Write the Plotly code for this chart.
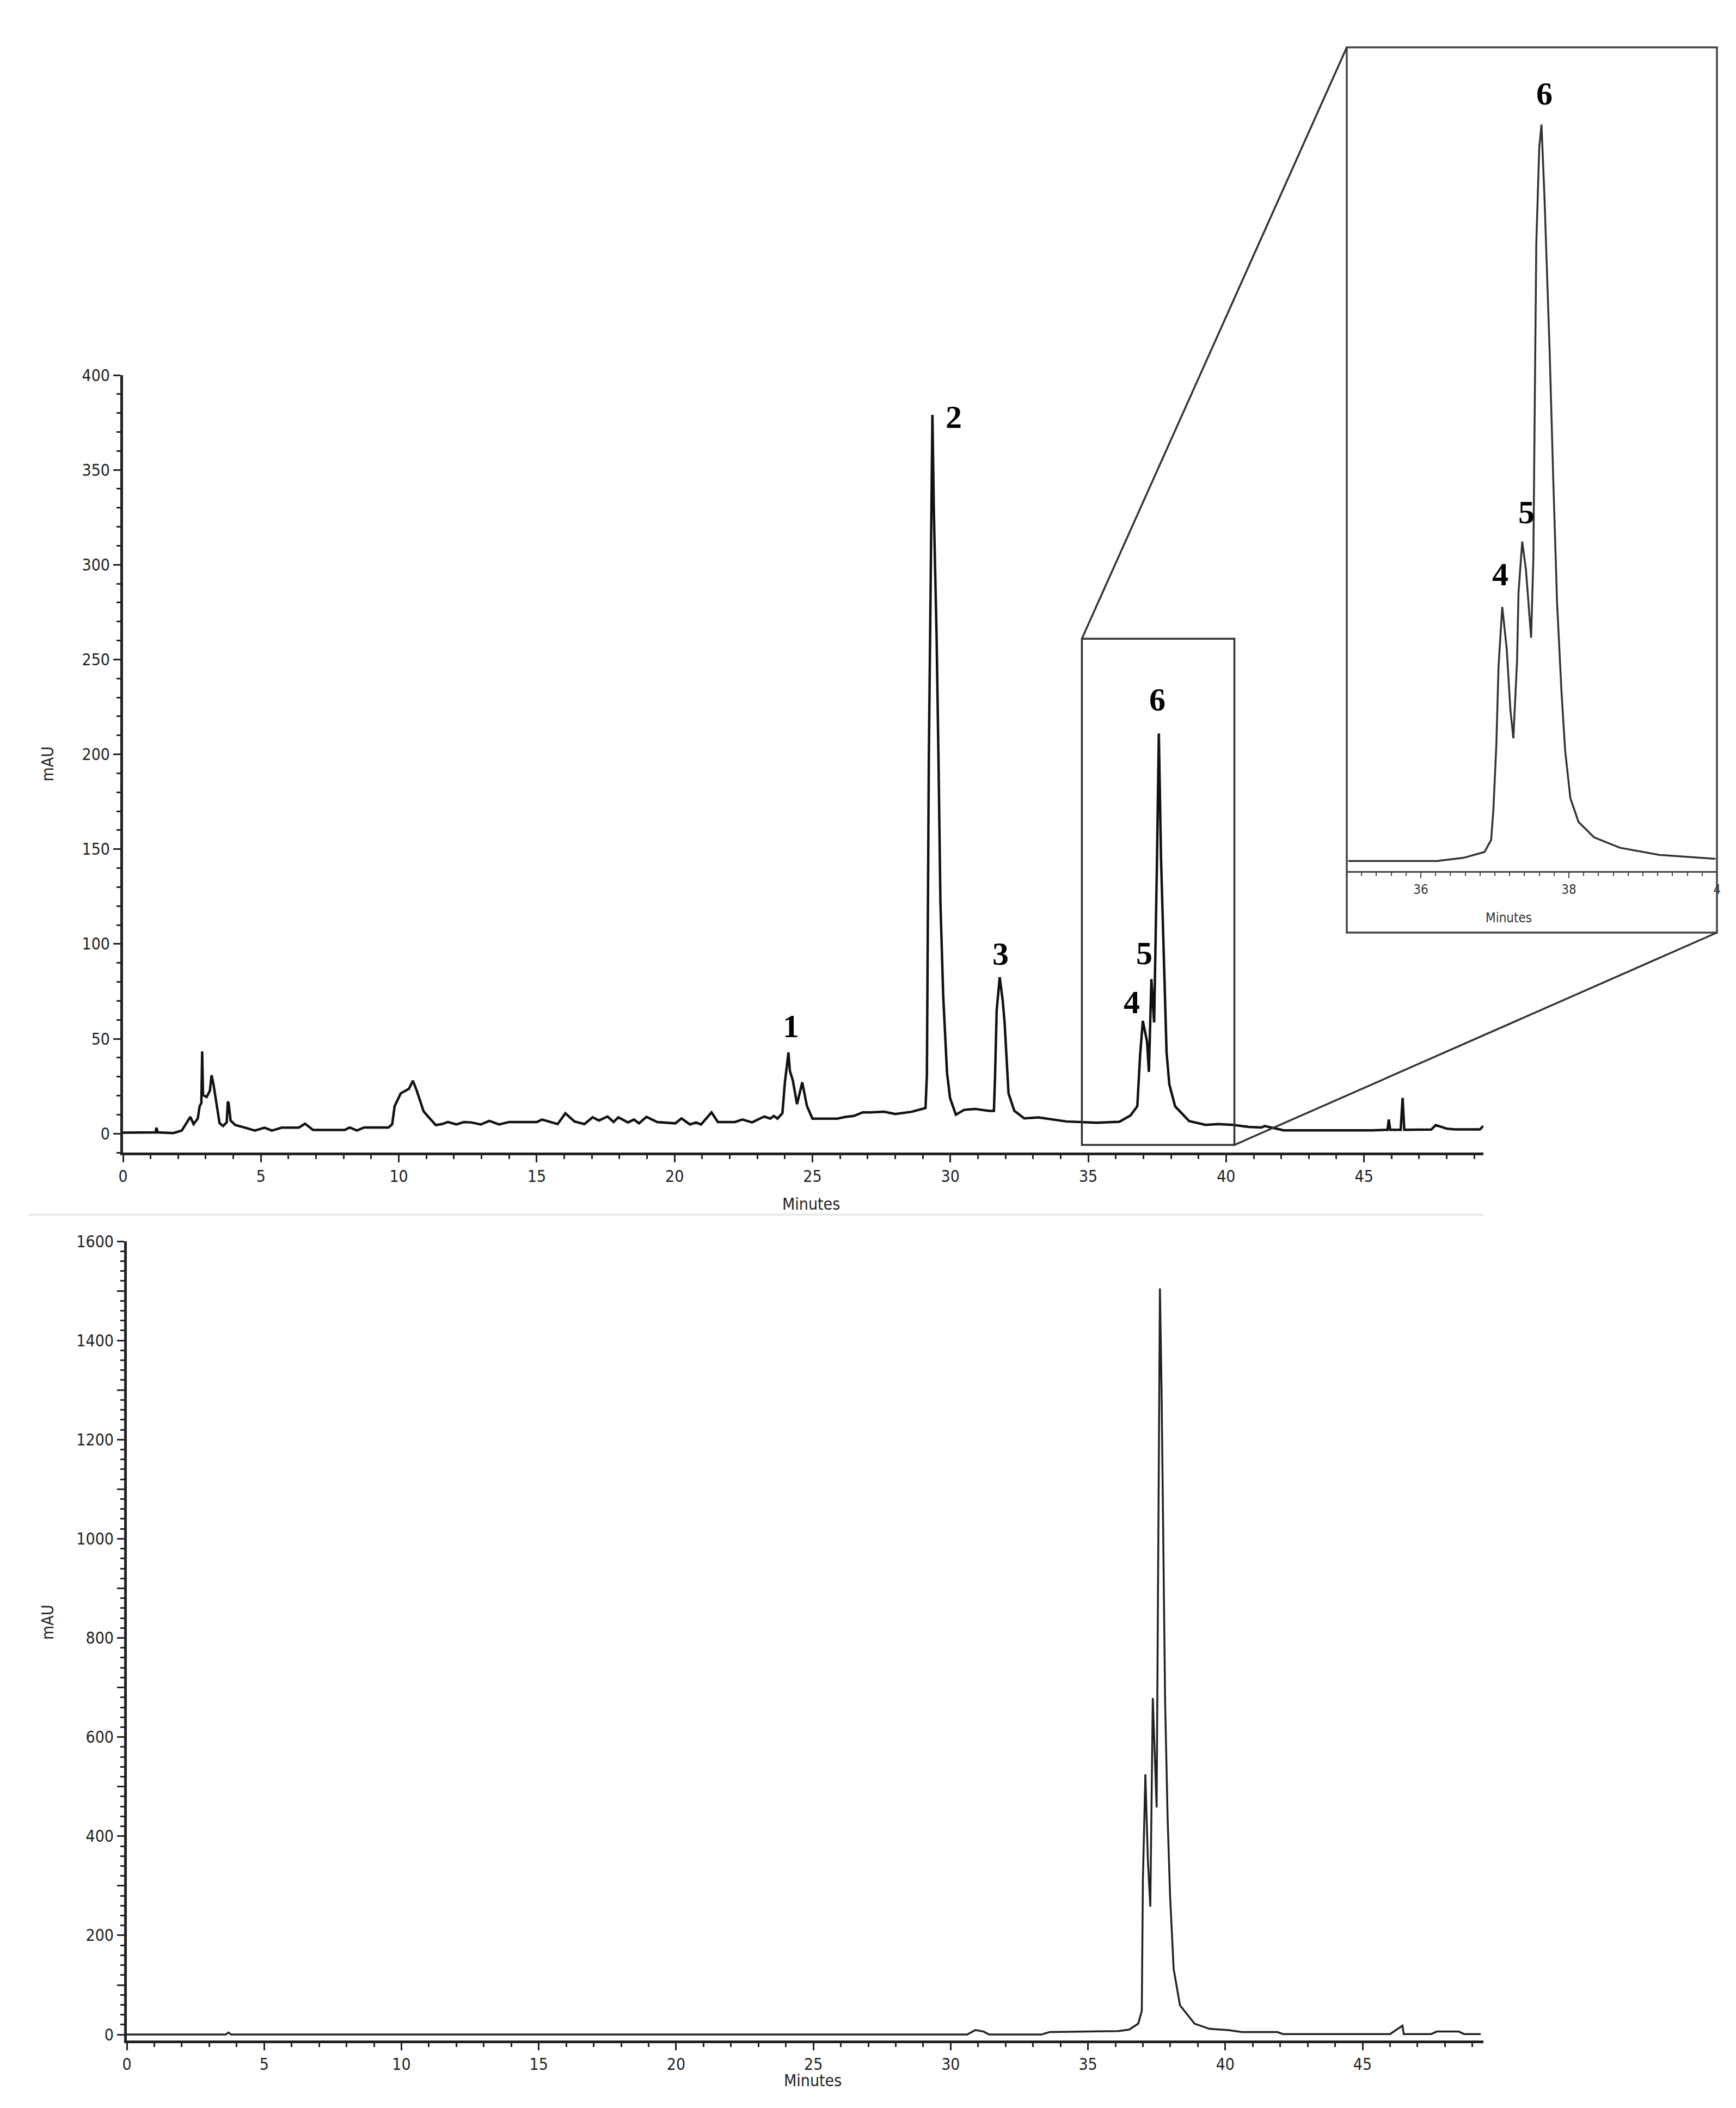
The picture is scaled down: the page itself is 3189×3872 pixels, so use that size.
import plotly.graph_objects as go

# ---------------- data ----------------
# Upper chromatogram (sample), retention time in minutes, signal in mAU
top_time = [0, 1.08, 1.18, 1.21, 1.26, 1.83, 2.13, 2.44, 2.56, 2.71, 2.78, 2.84, 2.87, 2.90,
            3.03, 3.15, 3.21, 3.28, 3.41, 3.50, 3.63, 3.76, 3.80, 3.83, 3.90, 4.07, 4.43, 4.78,
            5.13, 5.40, 5.75, 6.37, 6.60, 6.89, 8.04, 8.22, 8.48, 8.74, 9.63, 9.76, 9.85, 10.07,
            10.37, 10.51, 10.64, 10.90, 11.13, 11.34, 11.56, 11.78, 12.09, 12.36, 12.62, 12.97,
            13.28, 13.64, 14.00, 15.01, 15.19, 15.76, 16.04, 16.37, 16.73, 17.03, 17.26, 17.57,
            17.79, 17.96, 18.31, 18.53, 18.71, 18.98, 19.37, 20.03, 20.25, 20.56, 20.78, 20.96,
            21.34, 21.57, 22.19, 22.46, 22.81, 23.25, 23.47, 23.60, 23.73, 23.91, 24.00, 24.13,
            24.18, 24.29, 24.44, 24.63, 24.80, 25.00, 25.90, 26.20, 26.50, 26.82, 27.10, 27.60,
            28.00, 28.60, 29.10, 29.15, 29.22, 29.30, 29.35, 29.40, 29.50, 29.57, 29.64, 29.74,
            29.88, 29.99, 30.20, 30.50, 30.90, 31.40, 31.58, 31.62, 31.68, 31.79, 31.90, 31.97,
            32.04, 32.11, 32.32, 32.68, 33.20, 34.20, 35.30, 36.13, 36.53, 36.78, 36.88, 36.98,
            37.13, 37.20, 37.29, 37.39, 37.49, 37.56, 37.64, 37.74, 37.84, 37.94, 38.15, 38.66,
            39.26, 39.70, 40.27, 40.82, 41.28, 41.40, 42.09, 45.30, 45.85, 45.90, 45.95, 46.33,
            46.40, 46.46, 46.60, 47.44, 47.60, 48.00, 48.30, 49.20, 49.33]
top_signal = [0.5, 0.4, 0.6, 3.1, 0.6, 0.3, 1.6, 8.8, 5.0, 7.9, 14.5, 16.0, 43.3, 20.3,
              19.3, 22.6, 30.8, 26.0, 12.6, 5.5, 4.0, 5.9, 16.9, 16.0, 6.9, 4.5, 3.1, 1.6,
              3.1, 1.6, 3.1, 3.1, 5.2, 1.9, 1.9, 3.2, 1.6, 3.2, 3.2, 4.9, 14.5, 21.2,
              23.6, 27.9, 23.1, 11.7, 7.9, 4.5, 5.0, 6.1, 4.8, 6.1, 5.9, 4.8,
              6.7, 4.8, 6.1, 6.1, 7.4, 5.0, 10.7, 6.4, 5.0, 8.6, 6.9, 9.0,
              6.1, 8.6, 5.9, 7.4, 5.4, 8.8, 6.1, 5.4, 8.0, 4.8, 5.9, 4.8,
              11.2, 6.1, 6.1, 7.4, 5.9, 9.0, 7.9, 9.3, 7.9, 10.7, 27.0, 42.8,
              33.2, 27.9, 15.5, 27.0, 14.5, 7.9, 7.9, 8.8, 9.3, 11.2, 11.2, 11.5,
              10.3, 11.5, 13.5, 31.0, 198.0, 330.0, 379.0, 330.0, 263.0, 198.0, 122.0, 73.0,
              32.0, 18.7, 10.0, 12.5, 13.0, 12.0, 12.0, 29.6, 65.0, 82.5, 70.0, 58.0,
              40.0, 21.2, 12.0, 8.0, 8.5, 6.4, 5.7, 6.2, 9.5, 14.4, 41.2, 59.4,
              48.8, 32.5, 81.5, 58.6, 141.0, 211.0, 145.0, 93.0, 43.0, 26.0, 14.4, 6.6,
              4.6, 5.0, 4.6, 3.5, 3.2, 4.0, 1.7, 1.7, 2.0, 7.4, 2.0, 2.0,
              18.8, 2.0, 2.0, 2.1, 4.5, 2.6, 2.2, 2.2, 4.0]

# Inset (enlarged view of 35-40 min of the upper chromatogram)
inset_time = [35.02, 36.22, 36.58, 36.86, 36.95, 36.98, 37.02, 37.05, 37.10, 37.16, 37.21,
              37.25, 37.30, 37.32, 37.37, 37.42, 37.49, 37.52, 37.54, 37.56, 37.60, 37.63,
              37.67, 37.71, 37.74, 37.79, 37.84, 37.90, 37.95, 38.02, 38.13, 38.34, 38.69,
              39.22, 39.98]
inset_signal = [5.8, 5.8, 6.7, 8.3, 11.7, 20.0, 38.0, 60.0, 76.6, 65.0, 48.0,
                40.0, 61.6, 80.7, 94.8, 87.0, 68.0, 90.0, 134.7, 178.0, 204.6, 211.0,
                191.0, 168.0, 148.0, 111.5, 78.0, 53.0, 36.5, 23.3, 16.7, 12.4, 9.5,
                7.5, 6.4]

# Lower chromatogram (standard)
bottom_time = [0, 3.60, 3.70, 3.80, 10.0, 20.0, 30.60, 30.90, 31.20, 31.40, 33.30, 33.60,
               36.10, 36.50, 36.83, 36.96, 37.00, 37.09, 37.18, 37.27, 37.36, 37.50, 37.58,
               37.62, 37.68, 37.74, 37.81, 37.90, 37.99, 38.12, 38.35, 38.88, 39.42, 40.13,
               40.60, 41.90, 42.10, 46.00, 46.45, 46.50, 46.55, 47.50, 47.70, 48.50, 48.70,
               49.30]
bottom_signal = [0, 0, 4, 0, 0, 0, 0, 9, 6, 0, 0, 5,
                 7, 10, 22, 48, 311, 525, 353, 258, 679, 458, 1100,
                 1505, 1300, 1000, 668, 437, 280, 132, 59, 22, 11.5, 8.8,
                 5, 5, 1, 1, 18, 1, 1, 1, 6, 6, 1,
                 1]

# Peak labels
main_labels = ["1", "2", "3", "4", "5", "6"]
main_label_x = [24.23, 30.13, 31.83, 36.58, 37.04, 37.50]
main_label_y = [56.6, 377.9, 94.8, 69.2, 95.0, 228.9]
inset_labels = ["4", "5", "6"]
inset_label_x = [37.07, 37.43, 37.67]
inset_label_y = [85.7, 103.0, 219.6]

top_yticks = [0, 50, 100, 150, 200, 250, 300, 350, 400]
bottom_yticks = list(range(0, 1601, 100))
bottom_yticktext = [str(v) if v % 200 == 0 else "" for v in bottom_yticks]
x_ticks = [0, 5, 10, 15, 20, 25, 30, 35, 40, 45]
inset_xticks = [36, 38, 40]
inset_xticktext = ["36", "38", "4"]

# ---------------- layout geometry ----------------
W, H = 3189, 3872
def fx(p):
    return p / W
def fy(p):
    return 1 - p / H

top_xdom = [fx(218), fx(2717)]
top_ydom = [fy(2109), fy(681)]
top_xr = [0, 49.33]
top_yr = [-10, 400]
bot_xdom = [fx(225), fx(2717)]
bot_ydom = [fy(3740), fy(2272)]
bot_xr = [0, 49.4]
bot_yr = [-12, 1600]
ins_xdom = [fx(2466), fx(3146)]
ins_ydom = [fy(1592), fy(79)]
ins_xr = [35, 40]
ins_yr = [3.0, 232.5]

TICKFONT = dict(family="Liberation Sans Narrow, Arial Narrow, DejaVu Sans Condensed, sans-serif",
                size=30, color="#222")
LABELFONT = dict(family="Liberation Serif, Times New Roman, serif", size=60, color="#000")
AXCOL = "#222"

fig = go.Figure()
fig.add_trace(go.Scatter(x=top_time, y=top_signal, mode="lines",
                         line=dict(color="#111", width=4.5), xaxis="x", yaxis="y",
                         showlegend=False, hoverinfo="skip"))
fig.add_trace(go.Scatter(x=bottom_time, y=bottom_signal, mode="lines",
                         line=dict(color="#222", width=3.5), xaxis="x2", yaxis="y2",
                         showlegend=False, hoverinfo="skip"))
fig.add_trace(go.Scatter(x=inset_time, y=inset_signal, mode="lines",
                         line=dict(color="#333", width=3.5), xaxis="x3", yaxis="y3",
                         showlegend=False, hoverinfo="skip"))

def xaxis_cfg(dom, rng, anchor):
    return dict(domain=dom, range=rng, anchor=anchor, showgrid=False, zeroline=False,
                showline=True, linecolor=AXCOL, linewidth=5, ticks="outside",
                ticklen=13, tickwidth=3, tickcolor=AXCOL, tickmode="array",
                tickvals=x_ticks, tickfont=TICKFONT,
                minor=dict(tickmode="linear", tick0=0, dtick=1, ticks="outside",
                           ticklen=7, tickwidth=3, tickcolor=AXCOL))

fig.update_layout(
    width=W, height=H, paper_bgcolor="white", plot_bgcolor="white",
    margin=dict(l=0, r=0, t=0, b=0, autoexpand=False),
    xaxis=xaxis_cfg(top_xdom, top_xr, "y"),
    yaxis=dict(domain=top_ydom, range=top_yr, anchor="x", showgrid=False, zeroline=False,
               showline=True, linecolor=AXCOL, linewidth=5, ticks="outside", ticklen=13,
               tickwidth=3, tickcolor=AXCOL, tickmode="array", tickvals=top_yticks,
               tickfont=TICKFONT,
               minor=dict(tickmode="linear", tick0=0, dtick=10, ticks="outside",
                          ticklen=7, tickwidth=3, tickcolor=AXCOL)),
    xaxis2=xaxis_cfg(bot_xdom, bot_xr, "y2"),
    yaxis2=dict(domain=bot_ydom, range=bot_yr, anchor="x2", showgrid=False, zeroline=False,
                showline=True, linecolor=AXCOL, linewidth=5, ticks="outside", ticklen=13,
                tickwidth=3, tickcolor=AXCOL, tickmode="array", tickvals=bottom_yticks,
                ticktext=bottom_yticktext, tickfont=TICKFONT,
                minor=dict(tickmode="linear", tick0=0, dtick=20, ticks="outside",
                           ticklen=7, tickwidth=3, tickcolor=AXCOL)),
    xaxis3=dict(domain=ins_xdom, range=ins_xr, anchor="y3", showgrid=False, zeroline=False,
                showline=True, linecolor="#444", linewidth=3, ticks="outside", ticklen=10,
                tickwidth=2, tickcolor="#444", tickmode="array", tickvals=inset_xticks,
                ticktext=inset_xticktext,
                tickfont=dict(family=TICKFONT["family"], size=24, color="#333"),
                minor=dict(tickmode="linear", tick0=35, dtick=0.2, ticks="outside",
                           ticklen=6, tickwidth=2, tickcolor="#444")),
    yaxis3=dict(domain=ins_ydom, range=ins_yr, anchor="x3", showgrid=False, zeroline=False,
                showline=False, showticklabels=False, ticks=""),
)

annotations = []
for t, x, y in zip(main_labels, main_label_x, main_label_y):
    annotations.append(dict(x=x, y=y, xref="x", yref="y", text="<b>%s</b>" % t,
                            showarrow=False, font=LABELFONT))
for t, x, y in zip(inset_labels, inset_label_x, inset_label_y):
    annotations.append(dict(x=x, y=y, xref="x3", yref="y3", text="<b>%s</b>" % t,
                            showarrow=False, font=LABELFONT))
TITLEFONT = dict(family=TICKFONT["family"], size=30, color="#222")
annotations += [
    dict(x=fx(60), y=(top_ydom[0] + top_ydom[1]) / 2, xref="paper", yref="paper",
         text="mAU", textangle=-90, showarrow=False, font=TITLEFONT),
    dict(x=fx(60), y=(bot_ydom[0] + bot_ydom[1]) / 2, xref="paper", yref="paper",
         text="mAU", textangle=-90, showarrow=False, font=TITLEFONT),
    dict(x=fx(1482), y=fy(2203), xref="paper", yref="paper", text="Minutes",
         showarrow=False, font=TITLEFONT),
    dict(x=fx(1485), y=fy(3833), xref="paper", yref="paper", text="Minutes",
         showarrow=False, font=TITLEFONT),
    dict(x=fx(2808), y=fy(1678), xref="paper", yref="paper", text="Minutes",
         showarrow=False, font=dict(family=TICKFONT["family"], size=24, color="#333")),
]

# zoom rectangle on main chart (data coords) and its paper coords for connectors
zr_x = [34.77, 40.30]
zr_y = [-6, 261]
def to_paper(v, dom, rng):
    return dom[0] + (v - rng[0]) / (rng[1] - rng[0]) * (dom[1] - dom[0])

rx0 = to_paper(zr_x[0], top_xdom, top_xr)
rx1 = to_paper(zr_x[1], top_xdom, top_xr)
ry0 = to_paper(zr_y[0], top_ydom, top_yr)
ry1 = to_paper(zr_y[1], top_ydom, top_yr)
box = [fx(2466), fy(1705), fx(3146), fy(79)]  # inset frame x0, y0, x1, y1

shapes = [
    dict(type="rect", xref="x", yref="y", x0=zr_x[0], x1=zr_x[1], y0=zr_y[0], y1=zr_y[1],
         line=dict(color="#333", width=3.5)),
    dict(type="rect", xref="paper", yref="paper", x0=box[0], y0=box[1], x1=box[2], y1=box[3],
         line=dict(color="#444", width=3.5)),
    dict(type="line", xref="paper", yref="paper", x0=rx0, y0=ry1, x1=box[0], y1=box[3],
         line=dict(color="#333", width=3.5)),
    dict(type="line", xref="paper", yref="paper", x0=rx1, y0=ry0, x1=box[2], y1=box[1],
         line=dict(color="#333", width=3.5)),
    dict(type="line", xref="paper", yref="paper", x0=fx(45), x1=fx(2717), y0=fy(2223),
         y1=fy(2223), line=dict(color="#ececec", width=5)),
]
fig.update_layout(annotations=annotations, shapes=shapes)

fig.write_html("out.html")
